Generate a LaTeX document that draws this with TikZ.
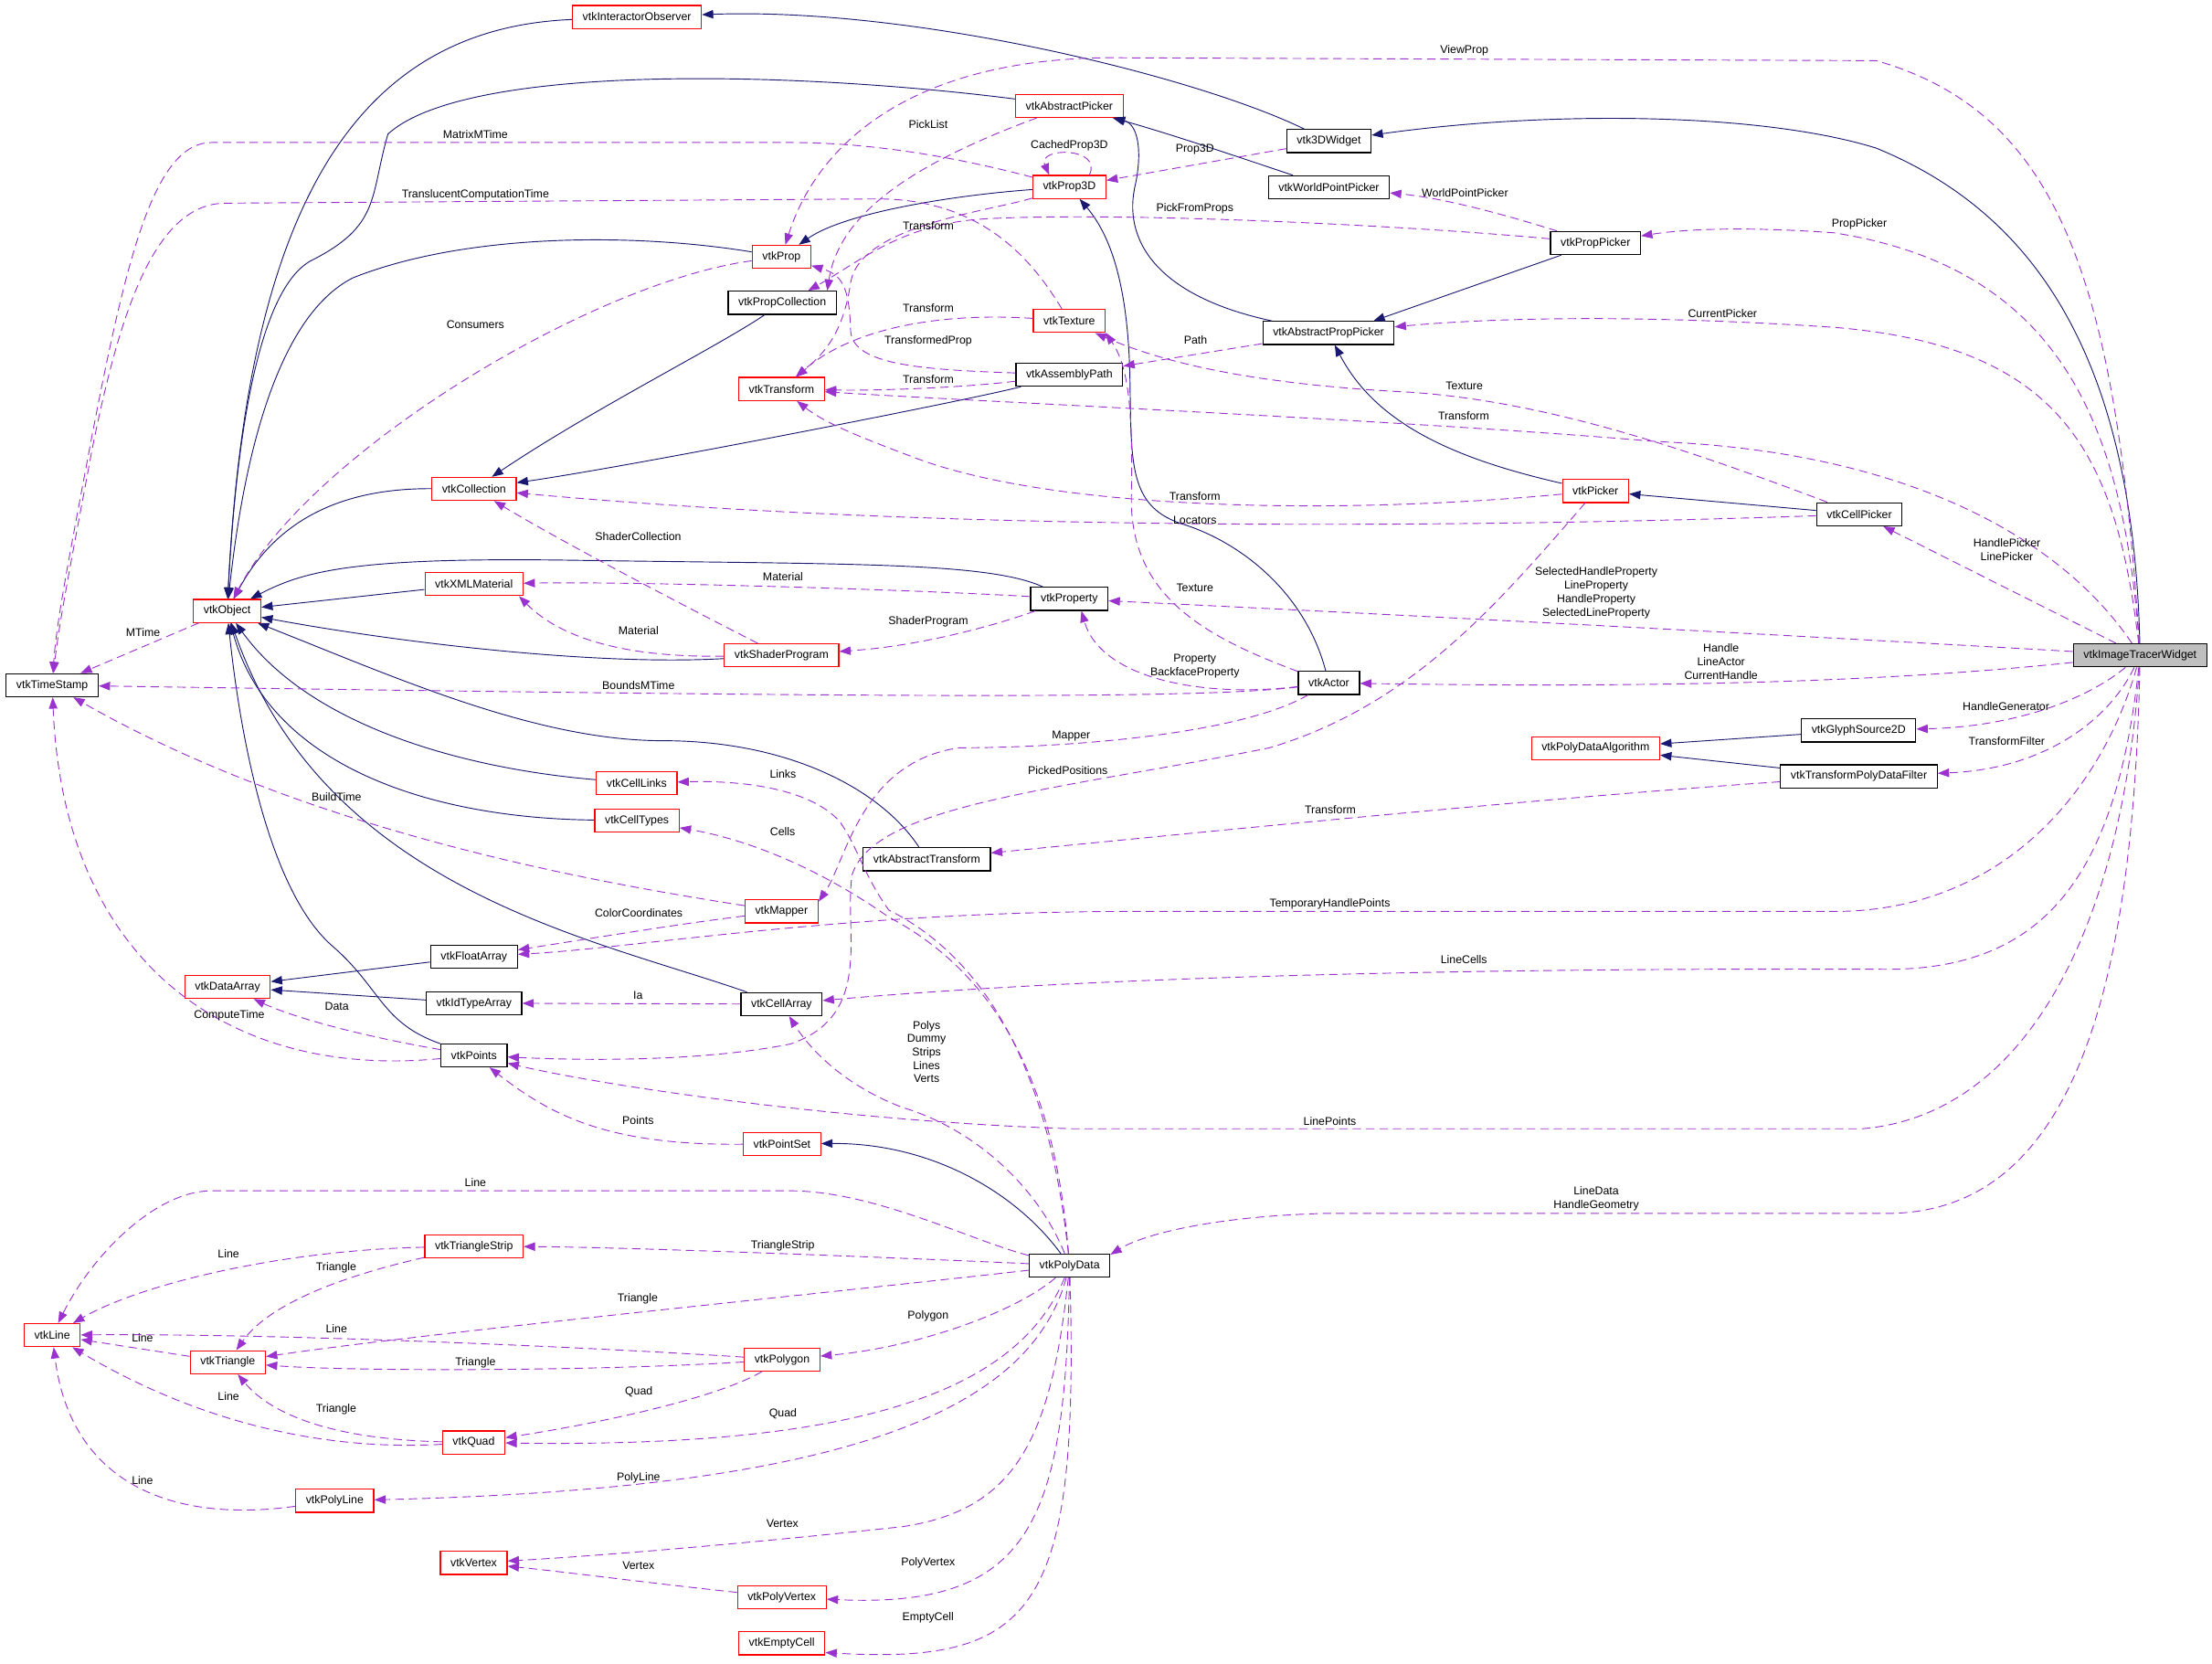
\documentclass[tikz,border=0pt]{standalone}
\usepackage{fontspec}
\setmainfont{Liberation Sans}
\usetikzlibrary{arrows.meta}
\definecolor{navy}{HTML}{191970}
\definecolor{orchid}{HTML}{9A32CD}
\definecolor{curgray}{HTML}{BFBFBF}
\tikzset{
  cls/.style={draw=black, fill=white, line width=0.8pt, inner xsep=7.2pt, inner ysep=0pt, minimum height=16.3pt, font=\fontsize{8}{9.5}\selectfont},
  clsred/.style={cls, draw=red},
  clsmain/.style={cls, fill=curgray},
  inhline/.style={-{Triangle[length=8pt,width=6pt]}, draw=navy, line width=0.6pt},
  memline/.style={-{Triangle[length=8pt,width=6pt]}, draw=orchid, line width=0.6pt, dash pattern=on 6pt off 3.5pt},
  edgetext/.style={font=\fontsize{8}{9.5}\selectfont, inner sep=0pt, align=center},
}

\begin{document}
\begin{tikzpicture}[x=1pt, y=-1pt]
  \path[use as bounding box, fill=white] (0,0) rectangle (1568,1179);

  \node[clsred] (iobs) at (451.5,12) {vtkInteractorObserver};
  \node[clsred] (apick) at (758,75) {vtkAbstractPicker};
  \node[cls] (w3d) at (942,100) {vtk3DWidget};
  \node[clsred] (prop3d) at (758,132.5) {vtkProp3D};
  \node[cls] (wpp) at (942,132.7) {vtkWorldPointPicker};
  \node[cls] (ppick) at (1131,172.3) {vtkPropPicker};
  \node[clsred] (prop) at (554,182) {vtkProp};
  \node[cls] (pcoll) at (554.5,214.6) {vtkPropCollection};
  \node[clsred] (tex) at (758,227.5) {vtkTexture};
  \node[cls] (appick) at (941.7,236) {vtkAbstractPropPicker};
  \node[clsred] (xform) at (554,275.7) {vtkTransform};
  \node[cls] (apath) at (758,265.6) {vtkAssemblyPath};
  \node[clsred] (coll) at (336,346.5) {vtkCollection};
  \node[clsred] (pick) at (1131,348) {vtkPicker};
  \node[cls] (cpick) at (1318,364.5) {vtkCellPicker};
  \node[clsred] (obj) at (161,433) {vtkObject};
  \node[clsred] (xml) at (336,414) {vtkXMLMaterial};
  \node[cls] (property) at (758,424.5) {vtkProperty};
  \node[clsmain] (itw) at (1517,464.5) {vtkImageTracerWidget};
  \node[cls] (tstamp) at (37,485.7) {vtkTimeStamp};
  \node[clsred] (shader) at (554,464.5) {vtkShaderProgram};
  \node[cls] (actor) at (942,484) {vtkActor};
  \node[clsred] (pda) at (1131,530.3) {vtkPolyDataAlgorithm};
  \node[cls] (glyph) at (1317.5,517.7) {vtkGlyphSource2D};
  \node[cls] (tpdf) at (1317.7,550.3) {vtkTransformPolyDataFilter};
  \node[clsred] (links) at (451.3,555) {vtkCellLinks};
  \node[clsred] (ctypes) at (451.5,581.5) {vtkCellTypes};
  \node[cls] (atrans) at (657,609) {vtkAbstractTransform};
  \node[clsred] (mapper) at (554,646) {vtkMapper};
  \node[cls] (farr) at (336,678) {vtkFloatArray};
  \node[clsred] (darr) at (161.3,699.5) {vtkDataArray};
  \node[cls] (idarr) at (336,711) {vtkIdTypeArray};
  \node[cls] (carr) at (554,711.7) {vtkCellArray};
  \node[cls] (pts) at (336,748) {vtkPoints};
  \node[clsred] (pset) at (554.3,810.7) {vtkPointSet};
  \node[clsred] (tstrip) at (336,883.3) {vtkTriangleStrip};
  \node[cls] (pdata) at (758.2,897) {vtkPolyData};
  \node[clsred] (line) at (37,946.3) {vtkLine};
  \node[clsred] (tri) at (161.5,965.5) {vtkTriangle};
  \node[clsred] (polygon) at (554.4,963.6) {vtkPolygon};
  \node[clsred] (quad) at (335.8,1022.4) {vtkQuad};
  \node[clsred] (pline) at (237.3,1063.7) {vtkPolyLine};
  \node[clsred] (vertex) at (335.8,1107.7) {vtkVertex};
  \node[clsred] (pvert) at (554.2,1132) {vtkPolyVertex};
  \node[clsred] (ecell) at (554.2,1164.7) {vtkEmptyCell};

  % inheritance
  \draw[inhline] (w3d) .. controls (850,55) and (650,5) .. (iobs);
  \draw[inhline] (itw) .. controls (1512,250) and (1440,150) .. (1330,105) .. controls (1250,80) and (1100,78) .. (w3d);
  \draw[inhline] (iobs) .. controls (250,20) and (175,150) .. (obj);
  \draw[inhline] (apick) .. controls (560,50) and (330,45) .. (275,95) .. controls (262,140) and (270,160) .. (220,185) .. controls (185,205) and (168,300) .. (obj);
  \draw[inhline] (wpp) .. controls (880,112) and (830,95) .. (apick);
  \draw[inhline] (appick) .. controls (820,210) and (795,170) .. (805,130) .. controls (810,105) and (806,88) .. (apick);
  \draw[inhline] (prop3d) .. controls (680,138) and (600,150) .. (prop);
  \draw[inhline] (prop) .. controls (450,165) and (330,165) .. (250,197) .. controls (195,225) and (172,330) .. (obj);
  \draw[inhline] (ppick) -- (appick.15);
  \draw[inhline] (pick) .. controls (1030,325) and (975,300) .. (appick);
  \draw[inhline] (cpick) -- (pick);
  \draw[inhline] (pcoll) .. controls (510,245) and (420,290) .. (coll);
  \draw[inhline] (apath) .. controls (680,285) and (450,330) .. (coll);
  \draw[inhline] (coll) .. controls (240,346) and (195,370) .. (obj);
  \draw[inhline] (actor) .. controls (925,420) and (880,385) .. (840,372) .. controls (800,360) and (802,330) .. (801,270) .. controls (800,210) and (790,170) .. (prop3d);
  \draw[inhline] (property) .. controls (700,398) and (600,400) .. (400,397) .. controls (250,395) and (215,405) .. (obj);
  \draw[inhline] (xml) -- (obj);
  \draw[inhline] (shader) .. controls (420,472) and (280,455) .. (obj);
  \draw[inhline] (atrans) .. controls (625,560) and (560,525) .. (470,525) .. controls (380,525) and (280,480) .. (obj);
  \draw[inhline] (links) .. controls (330,545) and (220,515) .. (obj);
  \draw[inhline] (ctypes) .. controls (300,580) and (190,540) .. (obj);
  \draw[inhline] (carr) .. controls (420,665) and (230,630) .. (obj);
  \draw[inhline] (pts) .. controls (270,725) and (270,700) .. (235,670) .. controls (190,630) and (170,520) .. (obj);
  \draw[inhline] (farr) -- (darr);
  \draw[inhline] (idarr) -- (darr);
  \draw[inhline] (glyph) -- (pda);
  \draw[inhline] (tpdf) -- (pda);
  \draw[inhline] (pdata) .. controls (720,845) and (660,810) .. (pset);

  % members
  \draw[memline] (itw) .. controls (1500,200) and (1460,80) .. (1330,43) -- (800,41) .. controls (650,38) and (580,100) .. (prop) node[edgetext] at (1038,36) {ViewProp};
  \draw[memline] (apick) .. controls (650,115) and (595,150) .. (pcoll.15) node[edgetext] at (658,88) {PickList};
  \draw[memline] (prop3d) .. controls (680,112) and (620,101) .. (560,101) -- (150,101) .. controls (110,101) and (90,180) .. (65,310) .. controls (50,390) and (40,440) .. (tstamp) node[edgetext] at (337,95) {MatrixMTime};
  \draw[memline] (prop3d.31) .. controls (782,104) and (735,104) .. (prop3d.149) node[edgetext] at (758,103) {CachedProp3D};
  \draw[memline] (w3d) -- (prop3d) node[edgetext] at (847,106) {Prop3D};
  \draw[memline] (tex) .. controls (735,190) and (700,140) .. (620,141) -- (160,144) .. controls (110,144) and (85,220) .. (65,320) .. controls (52,390) and (42,440) .. (tstamp) node[edgetext] at (337,138) {TranslucentComputationTime};
  \draw[memline] (ppick) .. controls (1060,150) and (1020,140) .. (wpp) node[edgetext] at (1038.5,137) {WorldPointPicker};
  \draw[memline] (ppick) .. controls (1000,160) and (800,150) .. (700,155) .. controls (640,158) and (610,185) .. (pcoll.25) node[edgetext] at (847,148) {PickFromProps};
  \draw[memline] (prop3d) .. controls (700,150) and (610,160) .. (603,200) .. controls (598,235) and (585,250) .. (xform) node[edgetext] at (658,160) {Transform};
  \draw[memline] (tex) .. controls (680,222) and (610,228) .. (xform) node[edgetext] at (658,218.5) {Transform};
  \draw[memline] (apath) .. controls (650,262) and (605,258) .. (603,235) .. controls (602,205) and (598,195) .. (prop) node[edgetext] at (658,242) {TransformedProp};
  \draw[memline] (apath) .. controls (680,275) and (620,277) .. (xform) node[edgetext] at (658,269) {Transform};
  \draw[memline] (appick) -- (apath) node[edgetext] at (847.5,241) {Path};
  \draw[memline] (cpick) .. controls (1200,320) and (1100,285) .. (1000,278) .. controls (880,272) and (820,255) .. (tex.-25) node[edgetext] at (1038,273.6) {Texture};
  \draw[memline] (itw) .. controls (1460,380) and (1350,320) .. (1175,313) .. controls (1000,298) and (700,285) .. (xform) node[edgetext] at (1037.5,295) {Transform};
  \draw[memline] (pick) .. controls (950,365) and (750,362) .. (650,325) .. controls (610,310) and (585,300) .. (xform) node[edgetext] at (847,351.7) {Transform};
  \draw[memline] (cpick) .. controls (1100,372) and (700,380) .. (coll) node[edgetext] at (847,368.5) {Locators};
  \draw[memline] (itw) .. controls (1505,300) and (1460,190) .. (1300,165) .. controls (1230,160) and (1190,163) .. (ppick) node[edgetext] at (1318,159) {PropPicker};
  \draw[memline] (itw) .. controls (1500,320) and (1460,245) .. (1300,232) .. controls (1150,222) and (1050,226) .. (appick) node[edgetext] at (1221,222) {CurrentPicker};
  \draw[memline] (itw) -- (cpick) node[edgetext] at (1422.6,389.6) {HandlePicker\\LinePicker};
  \draw[memline] (itw) .. controls (1300,452) and (1000,436) .. (property) node[edgetext] at (1131.5,420.2) {SelectedHandleProperty\\LineProperty\\HandleProperty\\SelectedLineProperty};
  \draw[memline] (itw) .. controls (1350,482) and (1200,488) .. (actor) node[edgetext] at (1220,469) {Handle\\LineActor\\CurrentHandle};
  \draw[memline] (itw) .. controls (1480,495) and (1430,515) .. (glyph) node[edgetext] at (1422,501) {HandleGenerator};
  \draw[memline] (itw) .. controls (1495,510) and (1450,545) .. (tpdf) node[edgetext] at (1422.5,525.6) {TransformFilter};
  \draw[memline] (itw) .. controls (1490,560) and (1420,646) .. (1300,646) -- (800,646) .. controls (600,646) and (450,672) .. (farr) node[edgetext] at (942.7,640.6) {TemporaryHandlePoints};
  \draw[memline] (itw) .. controls (1500,620) and (1450,686) .. (1340,687) .. controls (1100,686) and (800,690) .. (carr) node[edgetext] at (1037.7,680) {LineCells};
  \draw[memline] (itw) .. controls (1505,650) and (1440,790) .. (1320,800) -- (760,800) .. controls (600,795) and (430,770) .. (pts) node[edgetext] at (942.7,794.8) {LinePoints};
  \draw[memline] (itw) .. controls (1512,700) and (1470,858) .. (1340,860) -- (940,860) .. controls (860,862) and (810,875) .. (pdata.15) node[edgetext] at (1131.5,849.5) {LineData\\HandleGeometry};
  \draw[memline] (prop) .. controls (420,200) and (220,320) .. (obj) node[edgetext] at (337,230) {Consumers};
  \draw[memline] (property) .. controls (650,418) and (450,412) .. (xml) node[edgetext] at (555,408.6) {Material};
  \draw[memline] (shader) .. controls (450,466) and (400,455) .. (xml.-15) node[edgetext] at (452.6,446.7) {Material};
  \draw[memline] (shader) .. controls (490,432) and (400,385) .. (coll) node[edgetext] at (452.4,380) {ShaderCollection};
  \draw[memline] (property) .. controls (700,445) and (650,458) .. (shader) node[edgetext] at (658,440.4) {ShaderProgram};
  \draw[memline] (actor) .. controls (850,450) and (800,420) .. (802,350) .. controls (803,290) and (800,260) .. (tex.-18) node[edgetext] at (847,416.4) {Texture};
  \draw[memline] (actor) .. controls (850,495) and (780,480) .. (property.-45) node[edgetext] at (847,472) {Property\\BackfaceProperty};
  \draw[memline] (actor) .. controls (850,496) and (600,494) .. (tstamp) node[edgetext] at (452.6,485.7) {BoundsMTime};
  \draw[memline] (obj) -- (tstamp) node[edgetext] at (101.4,448.2) {MTime};
  \draw[memline] (actor) .. controls (880,520) and (760,530) .. (680,530) .. controls (610,540) and (600,610) .. (mapper.15) node[edgetext] at (759.3,522) {Mapper};
  \draw[memline] (pick) .. controls (1060,430) and (1000,500) .. (900,530) .. controls (750,560) and (620,570) .. (604,620) .. controls (598,660) and (620,720) .. (560,740) .. controls (500,752) and (420,752) .. (pts) node[edgetext] at (757,545.8) {PickedPositions};
  \draw[memline] (tpdf) .. controls (1100,565) and (850,590) .. (atrans) node[edgetext] at (943,574) {Transform};
  \draw[memline] (mapper) .. controls (420,625) and (220,590) .. (tstamp) node[edgetext] at (238.5,564.6) {BuildTime};
  \draw[memline] (mapper) .. controls (480,655) and (420,665) .. (farr) node[edgetext] at (452.8,647.1) {ColorCoordinates};
  \draw[memline] (pdata) .. controls (748,800) and (720,690) .. (630,645) .. controls (612,620) and (608,600) .. (595,582) .. controls (575,560) and (530,553) .. (links) node[edgetext] at (555,548.4) {Links};
  \draw[memline] (pdata) .. controls (750,800) and (725,700) .. (630,650) .. controls (580,615) and (530,595) .. (ctypes) node[edgetext] at (554.8,589.6) {Cells};
  \draw[memline] (carr) -- (idarr) node[edgetext] at (452.3,705.4) {Ia};
  \draw[memline] (pts) .. controls (260,735) and (210,722) .. (darr) node[edgetext] at (238.8,713.5) {Data};
  \draw[memline] (pts) .. controls (160,765) and (45,680) .. (tstamp) node[edgetext] at (162.5,719.8) {ComputeTime};
  \draw[memline] (pdata) .. controls (735,840) and (690,800) .. (640,785) .. controls (600,770) and (575,745) .. (carr) node[edgetext] at (656.8,745.4) {Polys\\Dummy\\Strips\\Lines\\Verts};
  \draw[memline] (pset) .. controls (430,812) and (390,790) .. (pts) node[edgetext] at (452.3,794) {Points};
  \draw[memline] (pdata) .. controls (690,880) and (620,844) .. (560,844) -- (150,844) .. controls (110,844) and (65,890) .. (line) node[edgetext] at (337,838) {Line};
  \draw[memline] (pdata) .. controls (650,892) and (450,884) .. (tstrip) node[edgetext] at (554.8,882.8) {TriangleStrip};
  \draw[memline] (tstrip) .. controls (200,886) and (100,910) .. (line) node[edgetext] at (162,888.7) {Line};
  \draw[memline] (tstrip) .. controls (240,905) and (190,925) .. (tri) node[edgetext] at (238.3,898.4) {Triangle};
  \draw[memline] (pdata) .. controls (600,915) and (300,945) .. (tri) node[edgetext] at (452,920.8) {Triangle};
  \draw[memline] (polygon) .. controls (420,955) and (200,945) .. (line) node[edgetext] at (238.5,941.7) {Line};
  \draw[memline] (tri) -- (line) node[edgetext] at (101,948.3) {Line};
  \draw[memline] (polygon) .. controls (420,972) and (250,972) .. (tri) node[edgetext] at (337,965.7) {Triangle};
  \draw[memline] (pdata) .. controls (720,930) and (650,955) .. (polygon) node[edgetext] at (657.9,932.8) {Polygon};
  \draw[memline] (polygon) .. controls (510,990) and (430,1008) .. (quad) node[edgetext] at (452.8,986.8) {Quad};
  \draw[memline] (quad) .. controls (200,1030) and (110,990) .. (line) node[edgetext] at (162,989.5) {Line};
  \draw[memline] (quad) .. controls (230,1020) and (190,1000) .. (tri) node[edgetext] at (238.3,998.8) {Triangle};
  \draw[memline] (pdata) .. controls (720,990) and (600,1026) .. (quad) node[edgetext] at (555,1001.8) {Quad};
  \draw[memline] (pdata) .. controls (730,1000) and (600,1055) .. (pline) node[edgetext] at (452.6,1047.5) {PolyLine};
  \draw[memline] (pline) .. controls (120,1080) and (50,1050) .. (line) node[edgetext] at (101,1049) {Line};
  \draw[memline] (pdata) .. controls (745,1020) and (720,1070) .. (640,1082) .. controls (520,1095) and (420,1103) .. (vertex) node[edgetext] at (554.6,1080) {Vertex};
  \draw[memline] (pvert) .. controls (460,1122) and (400,1114) .. (vertex) node[edgetext] at (452.6,1109.8) {Vertex};
  \draw[memline] (pdata) .. controls (755,1080) and (730,1140) .. (pvert) node[edgetext] at (657.9,1108) {PolyVertex};
  \draw[memline] (pdata) .. controls (765,1140) and (735,1180) .. (ecell.-12) node[edgetext] at (657.9,1146.3) {EmptyCell};
\end{tikzpicture}
\end{document}
